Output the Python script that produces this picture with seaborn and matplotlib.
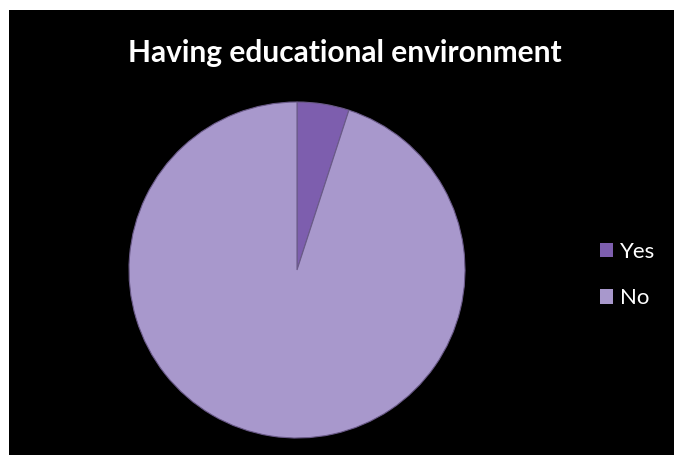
import matplotlib
matplotlib.use("Agg")
import matplotlib.pyplot as plt
import seaborn as sns
from matplotlib.patches import Rectangle, Patch

sns.set_theme(style="white")
plt.rcParams['font.family'] = ['Lato', 'DejaVu Sans']

labels = ["Yes", "No"]
values = [5, 95]
colors = ["#7d5eae", "#a898cc"]
title = "Having educational environment"

W, H = 674, 455
fig = plt.figure(figsize=(W/100, H/100), dpi=100)
fig.patch.set_facecolor("white")
fig.add_artist(Rectangle((9/W, 0), 1 - 9/W, 1 - 10/H, transform=fig.transFigure,
                         facecolor="black", edgecolor="none", zorder=0))

cx, cy, r = 297, 270, 168
ax = fig.add_axes([(cx - r)/W, (H - cy - r)/H, 2*r/W, 2*r/H])
ax.set_facecolor("none")
wedges, _ = ax.pie(values, colors=colors, startangle=90, counterclock=False,
                   wedgeprops=dict(edgecolor="#6a5a88", linewidth=0.8))
ax.set_xlim(-1, 1)
ax.set_ylim(-1, 1)
ax.axis("off")

fig.text(345/W, 1 - 53/H, title, color="white", fontsize=21.5, fontweight="bold",
         ha="center", va="center")

handles = [Patch(facecolor=c, edgecolor="none") for c in colors]
leg = fig.legend(handles, labels, loc="center left", bbox_to_anchor=(580/W, 1 - 275/H),
                 frameon=False, labelcolor="white", fontsize=16,
                 handlelength=0.6, handleheight=0.6, handletextpad=0.3,
                 labelspacing=1.2)

fig.savefig("out.png", dpi=100, facecolor=fig.get_facecolor())
